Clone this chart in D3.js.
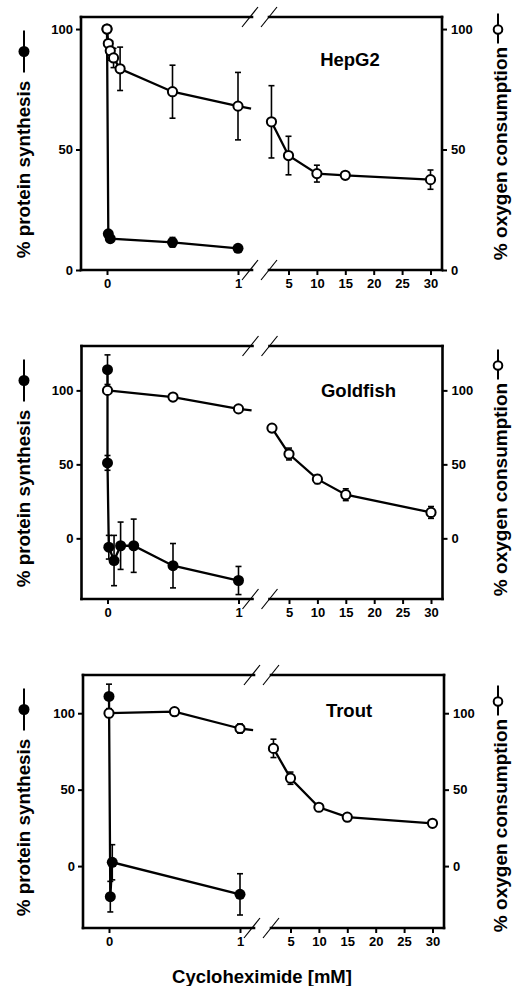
<!DOCTYPE html>
<html>
<head>
<meta charset="utf-8">
<script src="https://cdn.jsdelivr.net/npm/d3@7"></script>
<style>
  body { margin: 0; background: #fff; }
  svg { display: block; font-family: "Liberation Sans", Arial, sans-serif; font-weight: bold; }
  .tick text { font-size: 13px; font-weight: bold; fill: #000; }
  .tick line { stroke: #000; stroke-width: 2px; }
</style>
</head>
<body>
<svg id="chart"></svg>
<script>
const width = 513;
const height = 986;

// panel names and axes
const panels = ["HepG2", "Goldfish", "Trout"];
const yDomains = [[0, 105], [-41, 130], [-40.5, 125]];
const yTicks = [0, 50, 100];
const leftXTicks = [0, 1];
const rightXTicks = [5, 10, 15, 20, 25, 30];

// % oxygen consumption (open circles)
const hepOxyX = [0, 0.01, 0.025, 0.05, 0.1, 0.5, 1, 2, 5, 10, 15, 30];
const hepOxyY = [100, 94, 91, 88, 83.5, 74, 68, 61.5, 47.5, 40, 39.3, 37.5];
const hepOxyErr = [0, 0, 4, 4, 9, 11, 14, 15, 8, 3.5, 1, 4];

const goldOxyX = [0, 0.5, 1, 2, 5, 10, 15, 30];
const goldOxyY = [100, 95.5, 87.5, 74.5, 57, 40, 29.5, 17.5];
const goldOxyErr = [0, 0, 0, 0, 4, 3, 4, 4];

const troutOxyX = [0, 0.5, 1, 2, 5, 10, 15, 30];
const troutOxyY = [100, 101, 90, 77, 57.5, 38.5, 32, 28];
const troutOxyErr = [0, 0, 3, 6, 4, 2, 0, 0];

// % protein synthesis (filled circles)
const hepProtX = [0, 0.01, 0.025, 0.5, 1];
const hepProtY = [100, 15, 13, 11.5, 9];
const hepProtErr = [0, 0, 0, 2, 0];

const goldProtX = [0, 0, 0.01, 0.05, 0.1, 0.2, 0.5, 1];
const goldProtY = [114, 51, -6, -15, -5, -5, -18.5, -28.5];
const goldProtErr = [10, 5, 8, 17, 16, 18, 15, 9.5];

const troutProtX = [0, 0.01, 0.025, 1];
const troutProtY = [111, -20, 2.5, -18.5];
const troutProtErr = [8, 10, 11.5, 13.5];

const oxyX = [hepOxyX, goldOxyX, troutOxyX];
const oxyY = [hepOxyY, goldOxyY, troutOxyY];
const oxyErr = [hepOxyErr, goldOxyErr, troutOxyErr];
const protX = [hepProtX, goldProtX, troutProtX];
const protY = [hepProtY, goldProtY, troutProtY];
const protErr = [hepProtErr, goldProtErr, troutProtErr];

// layout
const panelTops = [17, 346, 675];
const panelShift = [0, 0.5, 2];
const frameH = 253;
const titleDx = [350, 358, 347];
const titleDy = [49, 51, 42];
const rightLabelShift = [10, 17, 24];

const svg = d3.select("#chart")
  .attr("width", width)
  .attr("height", height);

function toPts(xs, ys, es) {
  return xs.map((x, i) => ({ x: x, y: ys[i], e: es[i] }));
}

panels.forEach((name, p) => {
  const top = panelTops[p];
  const dx = panelShift[p];
  const bottom = top + frameH;
  const left = 81 + dx;
  const right = 442 + dx;
  const breakL = 252 + dx;
  const breakR = 269 + dx;

  const xL = d3.scaleLinear().domain([0, 1]).range([107 + dx, 238 + dx]);
  const xR = d3.scaleLinear().domain([5, 30]).range([288.5 + dx, 430.5 + dx]);
  const xPos = v => v <= 1.2 ? xL(v) : xR(v);
  const y = d3.scaleLinear().domain(yDomains[p]).range([bottom, top]);

  const g = svg.append("g").attr("class", "panel");

  // axes
  const axL = g.append("g")
    .attr("transform", `translate(${left},0)`)
    .call(d3.axisLeft(y).tickValues(yTicks).tickSize(5).tickPadding(3).tickFormat(d3.format("d")));
  const axR = g.append("g")
    .attr("transform", `translate(${right},0)`)
    .call(d3.axisRight(y).tickValues(yTicks).tickSize(5).tickPadding(4).tickFormat(d3.format("d")));
  const axB1 = g.append("g")
    .attr("transform", `translate(0,${bottom})`)
    .call(d3.axisBottom(xL).tickValues(leftXTicks).tickSize(5).tickPadding(4).tickFormat(d3.format("d")));
  const axB2 = g.append("g")
    .attr("transform", `translate(0,${bottom})`)
    .call(d3.axisBottom(xR).tickValues(rightXTicks).tickSize(5).tickPadding(4).tickFormat(d3.format("d")));
  [axL, axR, axB1, axB2].forEach(a => {
    a.select(".domain").remove();
    a.selectAll("text").attr("font-family", "Liberation Sans, Arial, sans-serif");
  });

  // frame with break
  const frame = [
    [left, top, breakL, top], [breakR, top, right, top],
    [left, bottom, breakL, bottom], [breakR, bottom, right, bottom],
    [left, top, left, bottom], [right, top, right, bottom]
  ];
  g.selectAll(".frame")
    .data(frame)
    .join("line")
    .attr("class", "frame")
    .attr("x1", d => d[0]).attr("y1", d => d[1])
    .attr("x2", d => d[2]).attr("y2", d => d[3])
    .attr("stroke", "#000")
    .attr("stroke-width", 2.6)
    .attr("stroke-linecap", "square");

  const slashes = [];
  [top, bottom].forEach(yy => {
    [250 + dx, 269 + dx].forEach(cx => slashes.push([cx, yy]));
  });
  g.selectAll(".slash")
    .data(slashes)
    .join("line")
    .attr("class", "slash")
    .attr("x1", d => d[0] - 8).attr("y1", d => d[1] + 10)
    .attr("x2", d => d[0] + 8).attr("y2", d => d[1] - 10)
    .attr("stroke", "#000")
    .attr("stroke-width", 1.2);

  const line = d3.line().x(d => xPos(d.x)).y(d => y(d.y));

  function drawSeries(pts, filled) {
    const leftPts = pts.filter(d => d.x <= 1.2);
    const rightPts = pts.filter(d => d.x > 1.2);
    const last = leftPts[leftPts.length - 1];
    const stub = filled ? [] : [last, { x: 1.1, y: last.y - 1 }];

    [leftPts, rightPts, stub].forEach(seg => {
      if (seg.length < 2) return;
      g.append("path")
        .datum(seg)
        .attr("d", line)
        .attr("fill", "none")
        .attr("stroke", "#000")
        .attr("stroke-width", 2.3);
    });

    const eb = pts.filter(d => d.e > 0);
    g.selectAll(null)
      .data(eb)
      .join("line")
      .attr("x1", d => xPos(d.x)).attr("x2", d => xPos(d.x))
      .attr("y1", d => y(d.y - d.e)).attr("y2", d => y(d.y + d.e))
      .attr("stroke", "#000").attr("stroke-width", 1.6);
    [1, -1].forEach(s => {
      g.selectAll(null)
        .data(eb)
        .join("line")
        .attr("x1", d => xPos(d.x) - 3).attr("x2", d => xPos(d.x) + 3)
        .attr("y1", d => y(d.y + s * d.e)).attr("y2", d => y(d.y + s * d.e))
        .attr("stroke", "#000").attr("stroke-width", 1.6);
    });

    g.selectAll(null)
      .data(pts)
      .join("circle")
      .attr("cx", d => xPos(d.x))
      .attr("cy", d => y(d.y))
      .attr("r", filled ? 5.5 : 4.6)
      .attr("fill", filled ? "#000" : "#fff")
      .attr("stroke", "#000")
      .attr("stroke-width", filled ? 0 : 2);
  }

  drawSeries(toPts(protX[p], protY[p], protErr[p]), true);
  drawSeries(toPts(oxyX[p], oxyY[p], oxyErr[p]), false);

  // title
  g.append("text")
    .attr("x", titleDx[p] + dx)
    .attr("y", top + titleDy[p])
    .attr("text-anchor", "middle")
    .attr("font-size", 18.5)
    .text(name);

  // left axis label with symbol
  const mid = (top + bottom) / 2;
  const lc = mid + 26;
  g.append("text")
    .attr("transform", `translate(30,${lc}) rotate(-90)`)
    .attr("text-anchor", "middle")
    .attr("font-size", 18.8)
    .text("% protein synthesis");
  const lsy = lc - 89 - 29;
  g.append("line")
    .attr("x1", 24).attr("x2", 24)
    .attr("y1", lsy - 21).attr("y2", lsy + 21)
    .attr("stroke", "#000").attr("stroke-width", 2);
  g.append("circle")
    .attr("cx", 24).attr("cy", lsy).attr("r", 5.5).attr("fill", "#000");

  // right axis label with symbol
  const rc = mid + rightLabelShift[p];
  g.append("text")
    .attr("transform", `translate(507,${rc}) rotate(-90)`)
    .attr("text-anchor", "middle")
    .attr("font-size", 19)
    .text("% oxygen consumption");
  const rsy = rc - 107 - 17;
  g.append("line")
    .attr("x1", 498).attr("x2", 498)
    .attr("y1", rsy - 16).attr("y2", rsy + 14)
    .attr("stroke", "#000").attr("stroke-width", 2);
  g.append("circle")
    .attr("cx", 498).attr("cy", rsy).attr("r", 4.3)
    .attr("fill", "#fff").attr("stroke", "#000").attr("stroke-width", 2);
});

svg.append("text")
  .attr("x", 262)
  .attr("y", 983)
  .attr("text-anchor", "middle")
  .attr("font-size", 18.5)
  .text("Cycloheximide [mM]");
</script>
</body>
</html>
